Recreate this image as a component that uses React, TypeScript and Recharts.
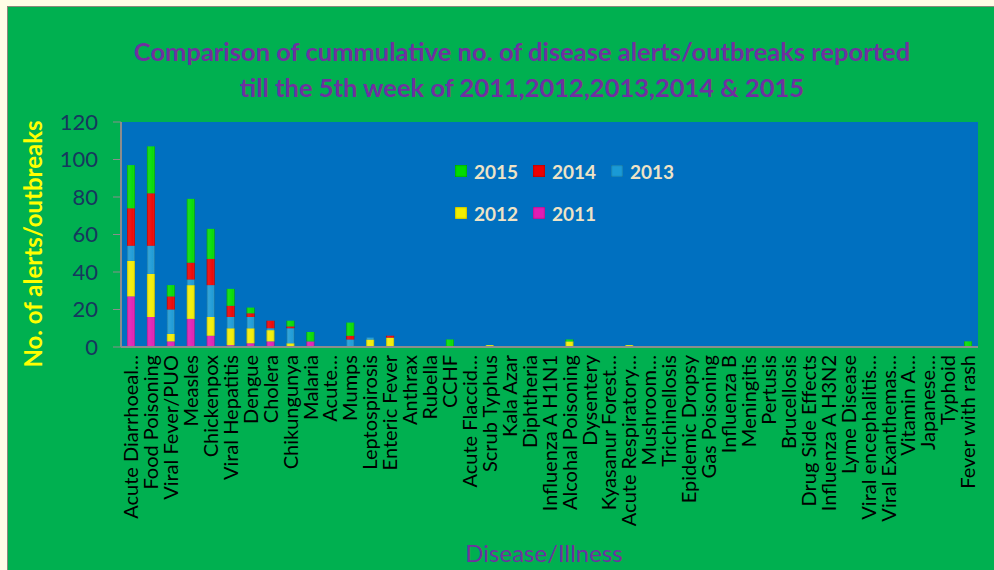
import React from "react";
import { BarChart, Bar, XAxis, YAxis, CartesianGrid, Legend } from "recharts";

const categories = [
  "Acute Diarrhoeal…", "Food Poisoning", "Viral Fever/PUO", "Measles", "Chickenpox",
  "Viral Hepatitis", "Dengue", "Cholera", "Chikungunya", "Malaria",
  "Acute…", "Mumps", "Leptospirosis", "Enteric Fever", "Anthrax",
  "Rubella", "CCHF", "Acute Flaccid…", "Scrub Typhus", "Kala Azar",
  "Diphtheria", "Influenza A H1N1", "Alcohal Poisoning", "Dysentery", "Kyasanur Forest…",
  "Acute Respiratory…", "Mushroom…", "Trichinellosis", "Epidemic Dropsy", "Gas Poisoning",
  "Influenza B", "Meningitis", "Pertusis", "Brucellosis", "Drug Side Effects",
  "Influenza A H3N2", "Lyme Disease", "Viral encephalitis…", "Viral Exanthemas…", "Vitamin A…",
  "Japanese…", "Typhoid", "Fever with rash",
];

const y2011 = [27, 16, 3, 15, 6, 1, 2, 3, 0, 3, 0, 0, 0, 0, 0, 0, 0, 0, 0, 0, 0, 0, 0, 0, 0, 0, 0, 0, 0, 0, 0, 0, 0, 0, 0, 0, 0, 0, 0, 0, 0, 0, 0];
const y2012 = [19, 23, 4, 18, 10, 9, 8, 6, 2, 0, 0, 0, 4, 5, 0, 0, 0, 0, 1, 0, 0, 0, 3, 0, 0, 1, 0, 0, 0, 0, 0, 0, 0, 0, 0, 0, 0, 0, 0, 0, 0, 0, 0];
const y2013 = [8, 15, 13, 3, 17, 6, 6, 1, 8, 0, 0, 4, 1, 0, 0, 0, 0, 0, 0, 0, 0, 0, 0, 0, 0, 0, 0, 0, 0, 0, 0, 0, 0, 0, 0, 0, 0, 0, 0, 0, 0, 0, 0];
const y2014 = [20, 28, 7, 9, 14, 6, 2, 4, 1, 0, 0, 2, 0, 1, 0, 0, 0, 0, 0, 0, 0, 0, 0, 0, 0, 0, 0, 0, 0, 0, 0, 0, 0, 0, 0, 0, 0, 0, 0, 0, 0, 0, 0];
const y2015 = [23, 25, 6, 34, 16, 9, 3, 0, 3, 5, 0, 7, 0, 0, 0, 0, 4, 0, 0, 0, 0, 0, 1, 0, 0, 0, 0, 0, 0, 0, 0, 0, 0, 0, 0, 0, 0, 0, 0, 0, 0, 0, 3];

const yTicks = [0, 20, 40, 60, 80, 100, 120];

const years = ["2011", "2012", "2013", "2014", "2015"];
const seriesValues = [y2011, y2012, y2013, y2014, y2015];

const colors: Record<string, string> = {
  "2011": "#e01cb4",
  "2012": "#f2ee00",
  "2013": "#1a9ad6",
  "2014": "#ee0000",
  "2015": "#00dc00",
};

const data = categories.map((name, i) => {
  const row: Record<string, string | number> = { name };
  years.forEach((yr, k) => {
    row[yr] = seriesValues[k][i];
  });
  return row;
});

const CategoryTick = (props: any) => {
  const { x, y, payload } = props;
  return (
    <g transform={`translate(${x},${y})`}>
      <text
        transform="rotate(-90)"
        textAnchor="end"
        dy="0.36em"
        fontSize={20}
        fontFamily="Lato"
        fill="#000"
      >
        {payload.value}
      </text>
    </g>
  );
};

const renderLegend = () => {
  const order = [...years].reverse();
  return (
    <div
      style={{
        display: "grid",
        gridTemplateColumns: "78px 78px 78px",
        rowGap: 22,
        fontFamily: "Lato",
        fontWeight: 700,
        fontSize: 19,
        color: "#eee3c6",
      }}
    >
      {order.map((yr) => (
        <div key={yr} style={{ display: "flex", alignItems: "center", height: 20 }}>
          <span
            style={{
              width: 12,
              height: 12,
              background: colors[yr],
              boxShadow: "inset 0 0 2px rgba(0,0,0,0.5)",
              marginRight: 7,
            }}
          />
          {yr}
        </div>
      ))}
    </div>
  );
};

export default function App() {
  return (
    <div
      style={{
        position: "fixed",
        left: 0,
        top: 0,
        width: 994,
        height: 570,
        background: "#fffde6",
        overflow: "hidden",
      }}
    >
      <div
        style={{
          position: "absolute",
          left: 7,
          top: 6,
          right: -2,
          bottom: -2,
          background: "#00b050",
          border: "1px solid #8a8a7a",
        }}
      />
      <div
        style={{
          position: "absolute",
          left: 0,
          width: 1044,
          top: 33,
          textAlign: "center",
          fontFamily: "Lato",
          fontWeight: 700,
          fontSize: 25.5,
          lineHeight: "36px",
          color: "#7030a0",
        }}
      >
        Comparison of cummulative no. of disease alerts/outbreaks reported
        <br />
        till the 5th week of 2011,2012,2013,2014 &amp; 2015
      </div>
      <div
        style={{
          position: "absolute",
          left: 32,
          top: 244,
          transform: "translate(-50%, -50%) rotate(-90deg)",
          whiteSpace: "nowrap",
          fontFamily: "Lato",
          fontWeight: 700,
          fontSize: 24,
          color: "#ffff00",
        }}
      >
        No. of alerts/outbreaks
      </div>
      <div
        style={{
          position: "absolute",
          left: 544,
          top: 552,
          transform: "translate(-50%, -50%)",
          whiteSpace: "nowrap",
          fontFamily: "Lato",
          fontSize: 24,
          color: "#7030a0",
        }}
      >
        Disease/Illness
      </div>
      <div style={{ position: "absolute", left: 0, top: 0 }}>
        <BarChart
          width={994}
          height={570}
          data={data}
          margin={{ top: 122, right: 16, bottom: 23, left: 51 }}
          barSize={8}
        >
          <defs>
            {years.map((yr) => (
              <linearGradient key={yr} id={`g${yr}`} x1="0" y1="0" x2="1" y2="0">
                <stop offset="0%" stopColor="#000" stopOpacity={0.25} />
                <stop offset="25%" stopColor="#fff" stopOpacity={0.1} />
                <stop offset="75%" stopColor="#fff" stopOpacity={0.03} />
                <stop offset="100%" stopColor="#000" stopOpacity={0.3} />
              </linearGradient>
            ))}
          </defs>
          <CartesianGrid fill="#0070c0" horizontal={false} vertical={false} stroke="none" />
          <XAxis
            dataKey="name"
            interval={0}
            tick={<CategoryTick />}
            tickLine={false}
            tickSize={0}
            tickMargin={8}
            height={200}
            axisLine={{ stroke: "#8c8c8c", strokeWidth: 2 }}
          />
          <YAxis
            domain={[0, 120]}
            ticks={yTicks}
            width={70}
            tickSize={8}
            tickMargin={15}
            axisLine={{ stroke: "#8c8c8c", strokeWidth: 2 }}
            tickLine={{ stroke: "#8c8c8c" }}
            tick={{ fill: "#17375e", fontSize: 22, fontFamily: "Lato" }}
          />
          <Legend
            layout="horizontal"
            verticalAlign="middle"
            content={renderLegend}
            wrapperStyle={{ position: "absolute", left: 455, top: 161, width: 240 }}
          />
          {years.map((yr) => (
            <Bar
              key={yr}
              dataKey={yr}
              name={yr}
              stackId="a"
              fill={colors[yr]}
              isAnimationActive={false}
              shape={(p: any) =>
                p.height > 0 ? (
                  <g>
                    <rect x={p.x} y={p.y} width={p.width} height={p.height} fill={colors[yr]} />
                    <rect x={p.x} y={p.y} width={p.width} height={p.height} fill={`url(#g${yr})`} />
                  </g>
                ) : (
                  <g />
                )
              }
            />
          ))}
        </BarChart>
      </div>
    </div>
  );
}
